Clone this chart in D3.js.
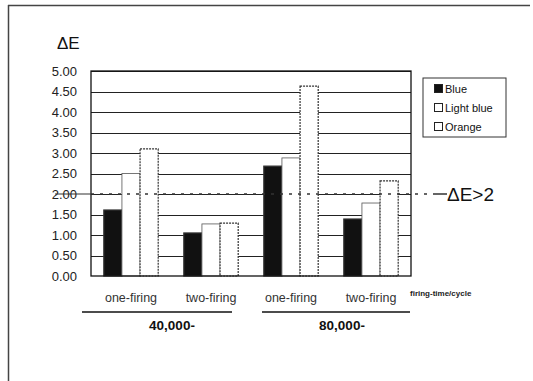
<!DOCTYPE html>
<html>
<head>
<meta charset="utf-8">
<script src="https://cdn.jsdelivr.net/npm/d3@7"></script>
<style>
  body { margin: 0; background: #fff; }
  svg { display: block; font-family: "Liberation Sans", Arial, sans-serif; }
</style>
</head>
<body>
<div id="chart"></div>
<script>
const groups = ["one-firing 40k", "two-firing 40k", "one-firing 80k", "two-firing 80k"];
const groupLabels = ["one-firing", "two-firing", "one-firing", "two-firing"];
const seriesNames = ["Blue", "Light blue", "Orange"];
const blueVals = [1.61, 1.05, 2.68, 1.39];
const lightBlueVals = [2.50, 1.27, 2.88, 1.78];
const orangeVals = [3.10, 1.29, 4.63, 2.32];
const yTicks = [0, 0.5, 1, 1.5, 2, 2.5, 3, 3.5, 4, 4.5, 5];
const cycles = ["40,000-", "80,000-"];
const threshold = 2;

const W = 533, H = 381;
const plot = { left: 91, right: 411, top: 71, bottom: 276 };

const svg = d3.select("#chart").append("svg")
  .attr("width", W)
  .attr("height", H);

// page frame (top + left edges only, as in the scan)
svg.append("line").attr("x1", 8).attr("x2", 530).attr("y1", 5.5).attr("y2", 5.5)
  .attr("stroke", "#444").attr("stroke-width", 1.5);
svg.append("line").attr("x1", 8.5).attr("x2", 8.5).attr("y1", 5).attr("y2", H)
  .attr("stroke", "#444").attr("stroke-width", 1.5);

const y = d3.scaleLinear().domain([0, 5]).range([plot.bottom, plot.top]);
const x0 = d3.scaleBand().domain(groups).range([plot.left, plot.right]).paddingInner(0.32).paddingOuter(0.16);
const x1 = d3.scaleBand().domain(seriesNames).range([0, x0.bandwidth()]);
const fills = { "Blue": "#111", "Light blue": "#fff", "Orange": "#fff" };

// gridlines
svg.append("g").selectAll("line")
  .data(yTicks.filter(d => d > 0))
  .join("line")
  .attr("x1", plot.left).attr("x2", plot.right)
  .attr("y1", d => Math.round(y(d)) + 0.5).attr("y2", d => Math.round(y(d)) + 0.5)
  .attr("stroke", "#222").attr("stroke-width", 1.2);

// y axis labels
const yAxis = d3.axisLeft(y).tickValues(yTicks).tickFormat(d3.format(".2f")).tickSize(0).tickPadding(14);
const yg = svg.append("g").attr("transform", `translate(${plot.left},0)`).call(yAxis);
yg.select(".domain").remove();
yg.selectAll("text").attr("font-size", 13).attr("fill", "#222")
  .attr("font-family", "'Liberation Sans', Arial, sans-serif");

// bars
const rows = groups.map((g, i) => ({
  group: g,
  values: [
    { name: "Blue", v: blueVals[i] },
    { name: "Light blue", v: lightBlueVals[i] },
    { name: "Orange", v: orangeVals[i] }
  ]
}));

svg.append("g").selectAll("g")
  .data(rows)
  .join("g")
  .attr("transform", d => `translate(${x0(d.group)},0)`)
  .selectAll("rect")
  .data(d => d.values)
  .join("rect")
  .attr("x", d => x1(d.name))
  .attr("y", d => y(d.v))
  .attr("width", x1.bandwidth())
  .attr("height", d => y(0) - y(d.v))
  .attr("fill", d => fills[d.name])
  .attr("stroke", d => d.name === "Light blue" ? "#555" : "#333")
  .attr("stroke-width", d => d.name === "Light blue" ? 0.8 : 1.2)
  .attr("stroke-dasharray", d => d.name === "Orange" ? "2,1" : null);

// plot frame
svg.append("rect")
  .attr("x", plot.left).attr("y", plot.top)
  .attr("width", plot.right - plot.left).attr("height", plot.bottom - plot.top)
  .attr("fill", "none").attr("stroke", "#111").attr("stroke-width", 1.3);

// threshold line
const ty = y(threshold);
svg.append("line").attr("x1", 55).attr("x2", plot.left).attr("y1", ty).attr("y2", ty)
  .attr("stroke", "#333").attr("stroke-width", 1.2);
svg.append("line").attr("x1", plot.left).attr("x2", 433).attr("y1", ty).attr("y2", ty)
  .attr("stroke", "#333").attr("stroke-width", 1.5).attr("stroke-dasharray", "3,6");
svg.append("line").attr("x1", 433).attr("x2", 447).attr("y1", ty).attr("y2", ty)
  .attr("stroke", "#111").attr("stroke-width", 1.3);
svg.append("text").attr("x", 447).attr("y", ty + 7)
  .attr("font-size", 19).attr("fill", "#111").text("ΔE>2");

// y title
svg.append("text").attr("x", 57).attr("y", 49)
  .attr("font-size", 17).attr("fill", "#111").text("ΔE");

// legend
const lg = svg.append("g").attr("transform", "translate(423,78)");
lg.append("rect").attr("width", 83).attr("height", 59)
  .attr("fill", "#fff").attr("stroke", "#333").attr("stroke-width", 1);
lg.selectAll("g.item")
  .data(seriesNames)
  .join("g")
  .attr("class", "item")
  .attr("transform", (d, i) => `translate(12,${11 + i * 19})`)
  .each(function(d) {
    const g = d3.select(this);
    g.append("rect").attr("x", -0.5).attr("y", -4.5).attr("width", 8).attr("height", 8)
      .attr("fill", fills[d]).attr("stroke", "#222").attr("stroke-width", 1);
    g.append("text").attr("x", 10).attr("y", 4).attr("font-size", 11).attr("fill", "#111").text(d);
  });

// category labels
svg.append("g").selectAll("text")
  .data(groups)
  .join("text")
  .attr("x", (d, i) => x0(d) + x0.bandwidth() / 2)
  .attr("y", 302)
  .attr("text-anchor", "middle")
  .attr("font-size", 12.5)
  .attr("fill", "#333")
  .text((d, i) => groupLabels[i]);

svg.append("text").attr("x", 410).attr("y", 296)
  .attr("font-size", 8).attr("font-weight", "bold").attr("fill", "#222")
  .text("firing-time/cycle");

// cycle brackets
const cycleSpan = [[82, 232], [262, 410]];
svg.append("g").selectAll("line")
  .data(cycleSpan)
  .join("line")
  .attr("x1", d => d[0]).attr("x2", d => d[1])
  .attr("y1", 312).attr("y2", 312)
  .attr("stroke", "#111").attr("stroke-width", 1.3);
svg.append("g").selectAll("text")
  .data(cycles)
  .join("text")
  .attr("x", (d, i) => [172, 342][i])
  .attr("y", 330)
  .attr("text-anchor", "middle")
  .attr("font-size", 13.5)
  .attr("font-weight", "bold")
  .attr("fill", "#111")
  .text(d => d);
</script>
</body>
</html>
